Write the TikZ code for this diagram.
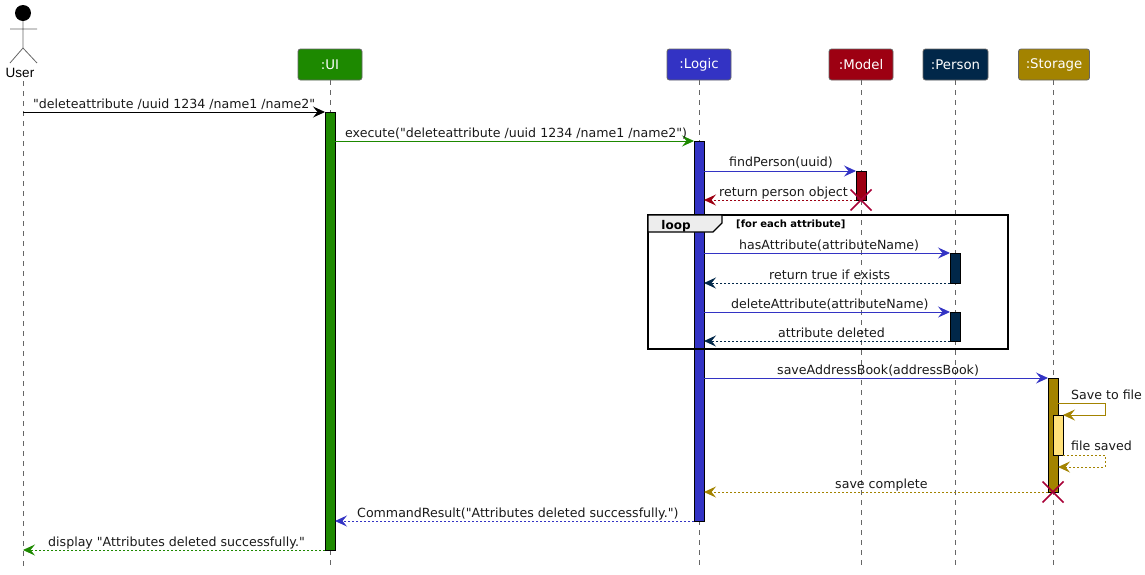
\documentclass[tikz,border=0pt]{standalone}
\usepackage{fontspec}
\newfontfamily\dvs{DejaVu Sans}
\newfontfamily\libs{Liberation Sans}
\setmainfont{DejaVu Sans}
\usetikzlibrary{arrows.meta}
\definecolor{cui}{HTML}{1D8900}
\definecolor{clogic}{HTML}{3333C4}
\definecolor{cmodel}{HTML}{9D0012}
\definecolor{cperson}{HTML}{012749}
\definecolor{cstorage}{HTML}{A38300}
\definecolor{cinner}{HTML}{FFE17A}
\definecolor{cx}{HTML}{A80036}
\tikzset{
  x=1pt,y=-1pt,
  head/.style={draw=black!60,line width=.8pt,rounded corners=2.5pt,inner sep=0pt,outer sep=0pt,text=white,font=\dvs\fontsize{13.3}{15}\selectfont,minimum height=31pt},
  life/.style={draw=black!60,line width=.8pt,dash pattern=on 5pt off 5pt},
  bar/.style={draw=black,line width=1pt,inner sep=0pt,outer sep=0pt,minimum width=10pt,anchor=north},
  msg/.style={line width=.9pt,-{Stealth[length=12pt,width=11pt,inset=4.5pt]}},
  ret/.style={msg,dash pattern=on 2pt off 2pt},
  lbl/.style={anchor=base west,inner sep=0pt,text=black!90,font=\dvs\fontsize{12.6}{15}\selectfont},
  killx/.style={draw=cx,line width=1.5pt},
  actorline/.style={draw=black!60,line width=.8pt}
}
\begin{document}
\begin{tikzpicture}
\useasboundingbox (0,0) rectangle (1145,574);
% lifelines
\node[head,fill=cui,minimum width=64pt] (ui) at (330,64.5) {:UI};
\node[head,fill=clogic,minimum width=64pt] (logic) at (699,64.5) {:Logic};
\node[head,fill=cmodel,minimum width=64pt] (model) at (861,64.5) {:Model};
\node[head,fill=cperson,minimum width=65pt] (person) at (955.5,64.5) {:Person};
\node[head,fill=cstorage,minimum width=71pt] (storage) at (1054,64.5) {:Storage};
\coordinate (user) at (23,81);
\coordinate (userend) at (23,568);
\draw[life] (user) -- (userend);
\coordinate (uiend) at (330,568);
\coordinate (logicend) at (699,568);
\coordinate (modelend) at (861,568);
\coordinate (personend) at (955,568);
\coordinate (storageend) at (1053,568);
\draw[life] (ui.south) -- (uiend);
\draw[life] (logic.south) -- (logicend);
\draw[life] (model.south) -- (modelend);
\draw[life] (person.south -| personend) -- (personend);
\draw[life] (storage.south -| storageend) -- (storageend);
% actor
\coordinate (ahead) at (23,13);
\coordinate (aneck) at (23,21);
\coordinate (ahip) at (23,48);
\coordinate (aleft) at (10,29);
\coordinate (aright) at (37,29);
\coordinate (lfoot) at (10,63);
\coordinate (rfoot) at (37,63);
\draw[actorline] (aneck) -- (ahip) (aleft) -- (aright) (lfoot) -- (ahip) -- (rfoot);
\fill[black] (ahead) circle (8);
\node[anchor=base,inner sep=0pt,text=black,font=\libs\fontsize{13.5}{16}\selectfont] (userlabel) at (20,77.5) {User};
% activation bars
\node[bar,fill=cui,minimum height=438pt] (uibar) at (330,112) {};
\node[bar,fill=clogic,minimum height=380pt] (logicbar) at (699,141) {};
\node[bar,fill=cmodel,minimum height=29pt] (modelbar) at (861,171) {};
\node[bar,fill=cperson,minimum height=30pt] (pa) at (955,253) {};
\node[bar,fill=cperson,minimum height=29pt] (pb) at (955,312) {};
\node[bar,fill=cstorage,minimum height=114pt] (sbar) at (1053,378) {};
\node[bar,fill=cinner,minimum height=40pt] (sinner) at (1058,415) {};
% loop frame
\node[draw=black,line width=2pt,minimum width=360pt,minimum height=134pt,inner sep=0pt,outer sep=0pt,anchor=north west] (loopframe) at (648,215) {};
\draw[black,line width=1.2pt,fill=black!7] (648,215) -- (722,215) -- (722,223) -- (713,232) -- (648,232) -- cycle;
\node[anchor=base,inner sep=0pt,font=\dvs\bfseries\fontsize{12}{14}\selectfont] (looplabel) at (676,229) {loop};
\node[anchor=base west,inner sep=0pt,font=\dvs\bfseries\fontsize{10}{12}\selectfont] (loopcond) at (736,227.5) {[for each attribute]};
% messages
\coordinate (y1) at (0,112);
\draw[msg,black] (user |- y1) -- (uibar.north west) ;
\draw[msg,cui] (uibar.east |- 0,141) -- (logicbar.north west);
\draw[msg,clogic] (logicbar.east |- 0,171) -- (modelbar.north west);
\draw[ret,cmodel] (modelbar.south west) -- (logicbar.east |- 0,200);
\draw[msg,clogic] (logicbar.east |- 0,253) -- (pa.north west);
\draw[ret,cperson] (pa.south west) -- (logicbar.east |- 0,283);
\draw[msg,clogic] (logicbar.east |- 0,312) -- (pb.north west);
\draw[ret,cperson] (pb.south west) -- (logicbar.east |- 0,341);
\draw[msg,clogic] (logicbar.east |- 0,378) -- (sbar.north west);
\coordinate (selfa) at (1105,403);
\coordinate (selfb) at (1105,467);
\draw[msg,cstorage] (sbar.east |- 0,403) -- (selfa) -- (selfa |- sinner.north) -- (sinner.north east);
\draw[ret,cstorage] (sinner.south east) -- (selfb |- sinner.south) -- (selfb) -- (sbar.east |- selfb);
\draw[ret,cstorage] (sbar.south west) -- (logicbar.east |- 0,492);
\draw[ret,clogic] (logicbar.south west) -- (uibar.east |- 0,521);
\draw[ret,cui] (uibar.south west) -- (user |- 0,550);
% destroys
\draw[killx] (850.5,189.5) -- (871.5,210.5) (850.5,210.5) -- (871.5,189.5);
\draw[killx] (1042.5,481.5) -- (1063.5,502.5) (1042.5,502.5) -- (1063.5,481.5);
% labels
\node[lbl] (t1) at (33,108) {"deleteattribute /uuid 1234 /name1 /name2"};
\node[lbl] (t2) at (345,137) {execute("deleteattribute /uuid 1234 /name1 /name2")};
\node[lbl] (t3) at (729,166) {findPerson(uuid)};
\node[lbl] (t4) at (719,196) {return person object};
\node[lbl] (t5) at (739,249) {hasAttribute(attributeName)};
\node[lbl] (t6) at (769,279) {return true if exists};
\node[lbl] (t7) at (731,308) {deleteAttribute(attributeName)};
\node[lbl] (t8) at (778,337) {attribute deleted};
\node[lbl] (t9) at (777,374) {saveAddressBook(addressBook)};
\node[lbl] (t10) at (1071,399) {Save to file};
\node[lbl] (t11) at (1071,450) {file saved};
\node[lbl] (t12) at (835,488) {save complete};
\node[lbl] (t13) at (357,517) {CommandResult("Attributes deleted successfully.")};
\node[lbl] (t14) at (48,546) {display "Attributes deleted successfully."};
\end{tikzpicture}
\end{document}
